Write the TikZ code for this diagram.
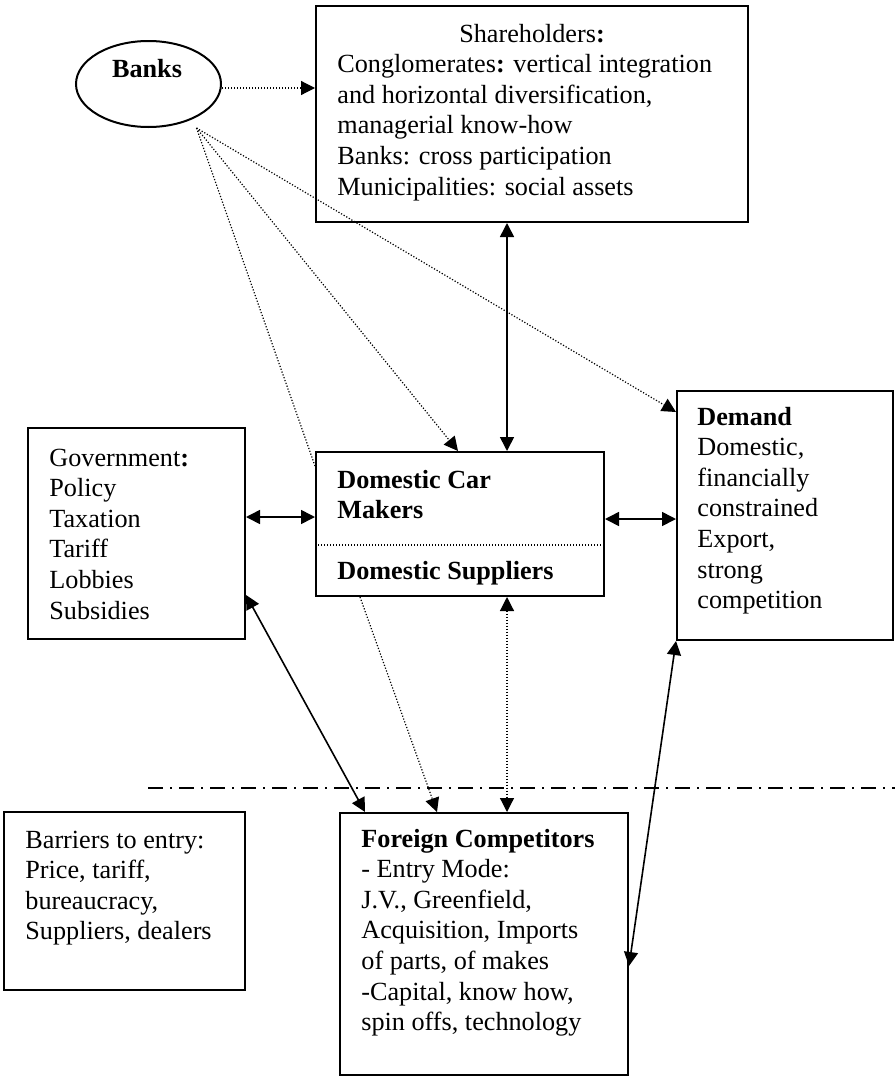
\documentclass[tikz,border=0pt]{standalone}
\usepackage{fontspec}
\setmainfont{Liberation Serif}
\usetikzlibrary{arrows.meta, shapes.geometric, calc, fit}

\tikzset{
  box/.style={draw, line width=1pt, inner sep=0pt},
  txt/.style={inner sep=0pt, align=left, anchor=base west},
  link/.style={line width=0.8pt, {Triangle[length=7pt,width=7pt]}-{Triangle[length=7pt,width=7pt]}},
  dotlink/.style={line width=0.6pt, dash pattern=on 0.6pt off 0.9pt},
  tip/.style={-{Triangle[length=7pt,width=7pt]}},
  divider/.style={line width=0.8pt, dash pattern=on 7.5pt off 3.5pt on 1pt off 3.5pt},
}

\begin{document}
\begin{tikzpicture}[x=0.5pt, y=-0.5pt, font=\fontsize{13.1}{15.3}\selectfont]
\useasboundingbox (0,0) rectangle (895,1076);

% Draw the boxes
\node[box, ellipse, minimum width=72.5pt, minimum height=43pt] (banks) at (148.5,84) {};
\node[box, fit={(316,6) (748,222)}] (sh) {};
\node[box, fit={(28,428) (245,639)}] (gov) {};
\node[box, fit={(316,452) (604,596)}] (dom) {};
\node[box, fit={(677,391) (893,640)}] (dem) {};
\node[box, fit={(4,812) (245,990)}] (bar) {};
\node[box, fit={(340,813) (628,1075)}] (for) {};

% Texts inside the boxes (placed by the baseline of their last line)
\node[txt, anchor=base] (bankstxt) at (147,77) {\textbf{Banks}};
\node[txt, anchor=base] (shtitle) at (532,42) {Shareholders\textbf{:}};
\node[txt] (shtxt) at (337,195) {Conglomerates\textbf{:} vertical integration\\
  and horizontal diversification,\\ managerial know-how\\
  Banks: cross participation\\ Municipalities: social assets};
\node[txt] (govtxt) at (49,619) {Government\textbf{:}\\ Policy\\ Taxation\\
  Tariff\\ Lobbies\\ Subsidies};
\node[txt] (domtxt) at (337,518.6) {\textbf{Domestic Car}\\ \textbf{Makers}};
\node[txt] (suptxt) at (337,579) {\textbf{Domestic Suppliers}};
\node[txt] (demtxt) at (697,608.6) {\textbf{Demand}\\ Domestic,\\ financially\\
  constrained\\ Export,\\ strong\\ competition};
\node[txt] (bartxt) at (25,939.8) {Barriers to entry:\\ Price, tariff,\\
  bureaucracy,\\ Suppliers, dealers};
\node[txt] (fortxt) at (361,1030.6) {\textbf{Foreign Competitors}\\ - Entry Mode:\\
  J.V., Greenfield,\\ Acquisition, Imports\\ of parts, of makes\\
  -Capital, know how,\\ spin offs, technology};

% Separator between makers and suppliers
\draw[dotlink] ($(dom.north west)+(0,94)$) -- ($(dom.north east)+(0,94)$);

% Dotted links from the banks
\draw[dotlink, tip] ($(banks.east)+(0,4)$) -- ($(banks.east -| sh.west)+(0,4)$);
\draw[dotlink] ($(banks.south)+(48,0)$) -- ($(dom.north west)+(0,15)$);
\draw[dotlink, tip] ($(banks.south)+(48,0)$) -- ($(dom.north west)+(143,0)$);
\draw[dotlink, tip] ($(banks.south)+(48,0)$) -- ($(dem.north west)+(0,22)$);

% Solid links
\draw[link] ($(sh.south west)+(192,0)$) -- ($(dom.north west)+(192,0)$);
\draw[link] ($(gov.north east)+(0,90)$) -- ($(dom.north west)+(0,66)$);
\draw[link] ($(dom.north east)+(0,68)$) -- ($(dem.north west)+(0,129)$);
\draw[link] ($(gov.south east)+(0,-45)$) -- ($(for.north west)+(26,0)$);
\draw[link] (dem.south west) -- ($(for.north east)+(0,154)$);

% Links with the foreign competitors
\draw[dotlink, tip] ($(dom.south west)+(45,0)$) -- ($(for.north west)+(98,0)$);
\draw[dotlink, {Triangle[length=7pt,width=7pt]}-{Triangle[length=7pt,width=7pt]}]
  ($(dom.south west)+(192,0)$) -- ($(for.north west)+(168,0)$);

% Entry line
\draw[divider] (148,788) -- (895,788);

\end{tikzpicture}
\end{document}
